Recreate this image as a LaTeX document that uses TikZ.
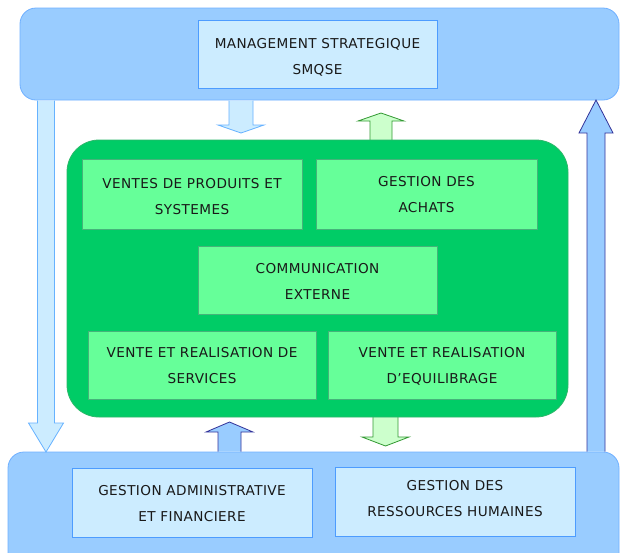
\documentclass[tikz,border=0pt]{standalone}
\usepackage{fontspec}
\setmainfont[LetterSpace=3]{DejaVu Sans}
\definecolor{bandfill}{HTML}{99CCFF}
\definecolor{banddraw}{HTML}{6FB0FF}
\definecolor{lightfill}{HTML}{CCECFF}
\definecolor{lightdraw}{HTML}{4D9CFF}
\definecolor{greenbig}{HTML}{00CC66}
\definecolor{greenbigdraw}{HTML}{2DB86A}
\definecolor{greenbox}{HTML}{66FF99}
\definecolor{greenboxdraw}{HTML}{45B37A}
\definecolor{arrowlightdraw}{HTML}{66B2FF}
\definecolor{arrowbluedraw}{HTML}{333399}
\definecolor{arrowgreenfill}{HTML}{CCFFCC}
\definecolor{arrowgreendraw}{HTML}{339933}
\tikzset{
  x=1pt, y=-1pt,
  band/.style={fill=bandfill, draw=banddraw, line width=0.8pt, rounded corners=16pt},
  lightbox/.style={fill=lightfill, draw=lightdraw, line width=0.8pt},
  greenframe/.style={fill=greenbig, draw=greenbigdraw, line width=0.8pt, rounded corners=32pt},
  greenrect/.style={fill=greenbox, draw=greenboxdraw, line width=0.8pt},
  boxtext/.style={align=center, font=\fontsize{13.6}{26}\selectfont, inner sep=0pt, text=black!90},
  arrlight/.style={fill=lightfill, draw=arrowlightdraw, line width=0.8pt, line join=miter},
  arrblue/.style={fill=bandfill, draw=arrowbluedraw, line width=0.8pt, line join=miter},
  arrgreen/.style={fill=arrowgreenfill, draw=arrowgreendraw, line width=0.8pt, line join=miter},
}
% block arrow: #1 style, #2 centre x, #3 tail y, #4 tip y, #5 half shaft, #6 half head, #7 head base y
\newcommand\blockarr[7]{%
  \draw[#1] (#2-#5,#3) -- (#2-#5,#7) -- (#2-#6,#7) -- (#2,#4) -- (#2+#6,#7) -- (#2+#5,#7) -- (#2+#5,#3);}
\begin{document}
\begin{tikzpicture}
\clip (0,0) rectangle (620,552);
\fill[white] (0,0) rectangle (620,552);
% bands
\draw[band] (20,8) rectangle (619,100);
\draw[band] (8,452) rectangle (619,575);
% side arrows
\blockarr{arrlight}{46}{100.5}{452}{8.5}{17.5}{423}
\blockarr{arrblue}{596}{451.5}{100}{9}{17}{133}
% top/bottom connectors
\blockarr{arrlight}{241}{100.5}{133}{12}{23}{125}
\blockarr{arrgreen}{381}{140}{113}{11}{23}{121}
\blockarr{arrblue}{229.5}{451.5}{422}{11.5}{23.5}{432}
\blockarr{arrgreen}{385.5}{417}{446}{12.5}{23.5}{437}
% green frame
\draw[greenframe] (67,140) rectangle (568,417);
% boxes
\draw[lightbox] (198,20) rectangle (437,88);
\node[boxtext] (ms) at (317.5,57) {MANAGEMENT STRATEGIQUE\\SMQSE};
\draw[greenrect] (82,159) rectangle (302,229);
\node[boxtext] (vp) at (192,197) {VENTES DE PRODUITS ET\\SYSTEMES};
\draw[greenrect] (316,159) rectangle (537,229);
\node[boxtext] (ga) at (426.5,195) {GESTION DES\\ACHATS};
\draw[greenrect] (198,246) rectangle (437,314);
\node[boxtext] (ce) at (317.5,281) {COMMUNICATION\\EXTERNE};
\draw[greenrect] (88,331) rectangle (316,399);
\node[boxtext] (vs) at (202,366) {VENTE ET REALISATION DE\\SERVICES};
\draw[greenrect] (328,331) rectangle (556,399);
\node[boxtext] (ve) at (442,366) {VENTE ET REALISATION\\D'EQUILIBRAGE};
\draw[lightbox] (72,468) rectangle (312,537);
\node[boxtext] (gaf) at (192,504) {GESTION ADMINISTRATIVE\\ET FINANCIERE};
\draw[lightbox] (335,467) rectangle (575,536);
\node[boxtext] (grh) at (455,499) {GESTION DES\\RESSOURCES HUMAINES};
\end{tikzpicture}
\end{document}
